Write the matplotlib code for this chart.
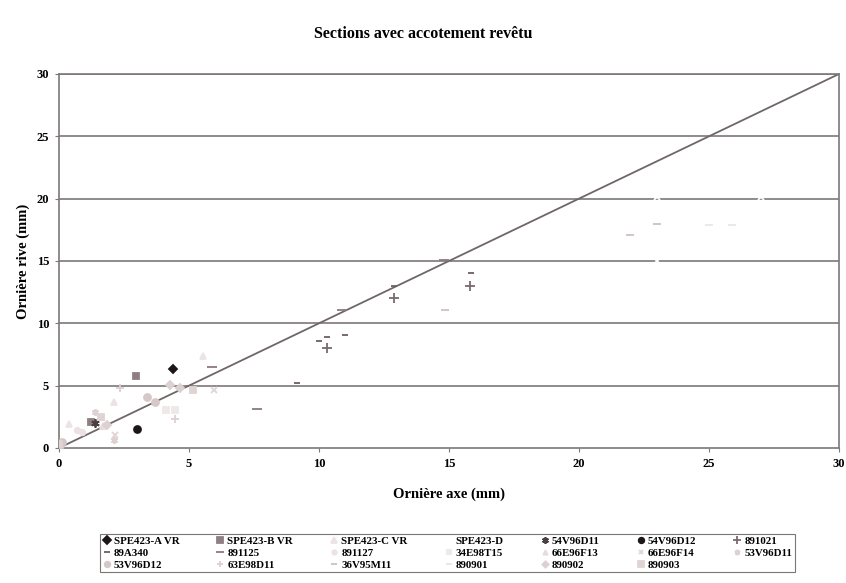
import matplotlib
matplotlib.use("Agg")
import matplotlib.pyplot as plt

plt.rcParams['font.family'] = ['Liberation Serif', 'DejaVu Serif']

# ---------------- data ----------------
title = "Sections avec accotement revêtu"
xlabel = "Ornière axe (mm)"
ylabel = "Ornière rive (mm)"
ticks = [0, 5, 10, 15, 20, 25, 30]
diag_x = [0, 30]
diag_y = [0, 30]

names = ["SPE423-A VR", "SPE423-B VR", "SPE423-C VR", "SPE423-D", "54V96D11",
         "54V96D12", "891021", "89A340", "891125", "891127", "34E98T15",
         "66E96F13", "66E96F14", "53V96D11", "53V96D12", "63E98D11",
         "36V95M11", "890901", "890902", "890903"]

spe423a_x = [4.4];                 spe423a_y = [6.3]
spe423b_x = [2.95, 1.25];          spe423b_y = [5.8, 2.1]
spe423c_x = [5.55, 0.4, 2.1];      spe423c_y = [7.4, 1.9, 3.7]
spe423d_x = [23.0, 27.0, 23.0];    spe423d_y = [20.1, 20.1, 15.0]
v54d11_x = [1.4];                  v54d11_y = [2.0]
v54d12_x = [3.0];                  v54d12_y = [1.55]
s891021_x = [10.3, 12.9, 15.8];    s891021_y = [8.0, 12.0, 13.0]
s89a340_x = [10.0, 10.3, 11.0, 12.9, 15.85, 9.15]
s89a340_y = [8.6, 8.9, 9.1, 13.0, 14.05, 5.25]
s891125_x = [7.6, 10.9, 14.8, 5.9]; s891125_y = [3.1, 11.1, 15.1, 6.5]
s891127_x = [0.7, 0.9];            s891127_y = [1.45, 1.3]
e34t15_x = [4.1, 4.45];            e34t15_y = [3.05, 3.05]
e66f13_x = [1.6, 1.7];             e66f13_y = [2.5, 1.75]
e66f14_x = [5.95, 2.15];           e66f14_y = [4.65, 1.05]
v53d11_x = [2.1, 1.4];             v53d11_y = [0.65, 2.9]
v53d12_x = [3.4, 3.7, 0.05, 0.1];  v53d12_y = [4.1, 3.7, 0.2, 0.5]
e63d11_x = [4.45, 2.35];           e63d11_y = [2.3, 4.8]
v36m11_x = [14.85, 21.96, 23.0];   v36m11_y = [11.1, 17.1, 18.0]
s890901_x = [25.0, 25.9];          s890901_y = [17.9, 17.9]
s890902_x = [4.27, 4.65, 1.85];    s890902_y = [5.05, 4.78, 1.85]
s890903_x = [5.17, 0.0, 1.6];      s890903_y = [4.65, 0.3, 2.5]

xs = [spe423a_x, spe423b_x, spe423c_x, spe423d_x, v54d11_x, v54d12_x, s891021_x,
      s89a340_x, s891125_x, s891127_x, e34t15_x, e66f13_x, e66f14_x, v53d11_x,
      v53d12_x, e63d11_x, v36m11_x, s890901_x, s890902_x, s890903_x]
ys = [spe423a_y, spe423b_y, spe423c_y, spe423d_y, v54d11_y, v54d12_y, s891021_y,
      s89a340_y, s891125_y, s891127_y, e34t15_y, e66f13_y, e66f14_y, v53d11_y,
      v53d12_y, e63d11_y, v36m11_y, s890901_y, s890902_y, s890903_y]

# ---------------- styles ----------------
styles = [
    dict(marker='D', color='#1c1618', ms=4.5),
    dict(marker='s', color='#8e8082', ms=5),
    dict(marker='^', color='#ece4e4', ms=5),
    dict(marker='x', color='#ffffff', ms=5),
    dict(marker=(6, 2, 0), color='#4a4042', ms=6),
    dict(marker='o', color='#1c1618', ms=5),
    dict(marker='+', color='#7a6a6c', ms=7),
    dict(marker='_', color='#6e5e60', ms=5),
    dict(marker='_', color='#8a7a7c', ms=7),
    dict(marker='o', color='#ebe3e3', ms=4),
    dict(marker='s', color='#eee8e8', ms=4),
    dict(marker='^', color='#e6dcdc', ms=4),
    dict(marker='x', color='#e0d4d4', ms=4),
    dict(marker=(6, 2, 0), color='#ddd2d2', ms=5),
    dict(marker='o', color='#d6c8c8', ms=5),
    dict(marker='+', color='#ddd0d0', ms=6),
    dict(marker='_', color='#d0c0c0', ms=6),
    dict(marker='_', color='#ece6e6', ms=6),
    dict(marker='D', color='#dcd0d0', ms=4),
    dict(marker='s', color='#dfd4d4', ms=5),
]

fig = plt.figure(figsize=(8.46, 5.83), dpi=100)
ax = fig.add_axes([0.0697, 0.2316, 0.9220, 0.6415])

ax.set_xlim(0, 30)
ax.set_ylim(0, 30)
ax.set_xticks(ticks)
ax.set_yticks(ticks)
for t in ticks[1:]:
    ax.axhline(t, color='#7d7778', lw=1.2, zorder=1)
for sp in ax.spines.values():
    sp.set_color('#7d7778')
    sp.set_linewidth(1.2)

ax.plot(diag_x, diag_y, color='#6f6667', lw=1.3, zorder=2)

handles = []
for name, x, y, st in zip(names, xs, ys, styles):
    h, = ax.plot(x, y, linestyle='none', marker=st['marker'], color=st['color'],
                 markersize=st['ms'], markeredgewidth=1.3, label=name, zorder=3)
    handles.append(h)

ax.tick_params(axis='both', direction='out', length=3, color='#7d7778',
               labelsize=9, pad=4)
for lbl in ax.get_xticklabels() + ax.get_yticklabels():
    lbl.set_fontweight('bold')

ax.set_xlabel(xlabel, fontsize=10.5, fontweight='bold', labelpad=13)
ax.set_ylabel(ylabel, fontsize=10.5, fontweight='bold', labelpad=5)
fig.text(0.50, 0.942, title, ha='center', va='center', fontsize=11.5,
         fontweight='bold')

# legend: row-major order across 7 columns
ncol = 7
n = len(handles)
order = [r * ncol + c for c in range(ncol) for r in range(3) if r * ncol + c < n]
leg = fig.legend([handles[i] for i in order], [names[i] for i in order],
                 loc='lower left', bbox_to_anchor=(0.112, 0.009, 0.834, 0.087),
                 mode='expand', ncol=ncol, fontsize=7.8, frameon=True, fancybox=False,
                 edgecolor='#555555', handlelength=0.7, handletextpad=0.3,
                 columnspacing=0.4, borderpad=0.25, labelspacing=0.2,
                 markerscale=0.8)
leg.get_frame().set_linewidth(0.8)
for txt in leg.get_texts():
    txt.set_fontweight('bold')

fig.savefig('out.png', dpi=100)
